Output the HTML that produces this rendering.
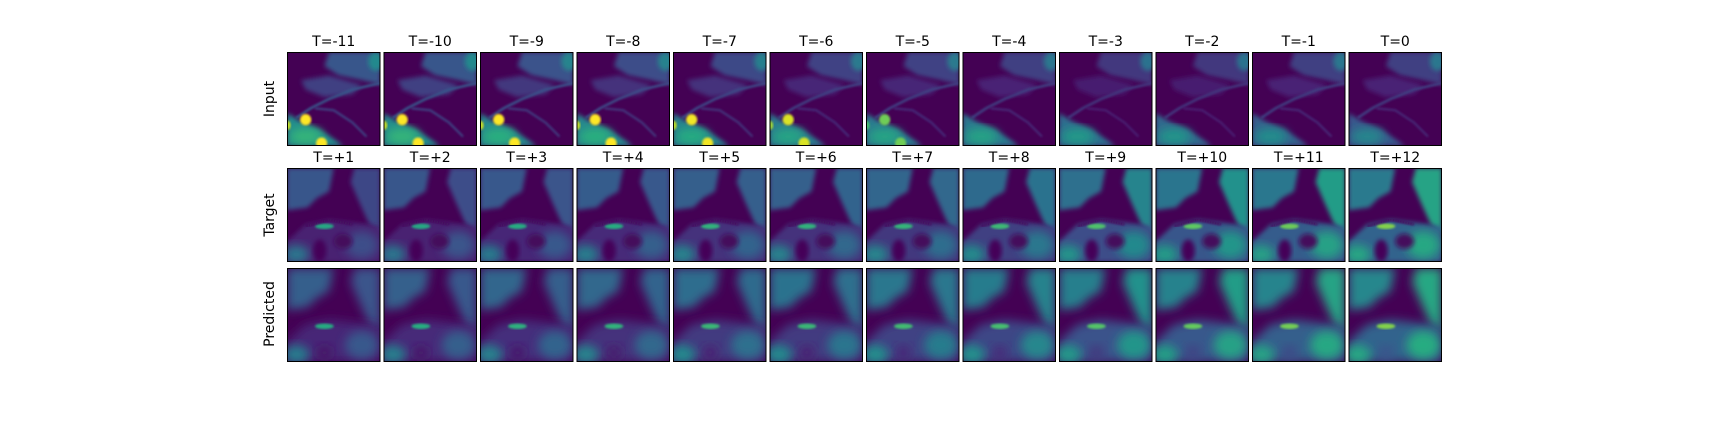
<!DOCTYPE html>
<html><head><meta charset="utf-8"><style>
html,body{margin:0;padding:0;background:#fff;}
svg text{font-family:"DejaVu Sans","Liberation Sans",sans-serif;font-size:14px;fill:#000;}
</style></head><body>
<svg id="fig" width="1728" height="432" viewBox="0 0 1728 432" xmlns="http://www.w3.org/2000/svg">
<defs>
<filter id="blur2" x="-20%" y="-20%" width="140%" height="140%"><feGaussianBlur stdDeviation="2.5"/></filter>
<filter id="blur4" x="-30%" y="-30%" width="160%" height="160%"><feGaussianBlur stdDeviation="5"/></filter>
<filter id="blur1"><feGaussianBlur stdDeviation="1"/></filter>
</defs>
<text transform="translate(274,99) rotate(-90)" text-anchor="middle">Input</text>
<text transform="translate(274,215) rotate(-90)" text-anchor="middle">Target</text>
<text transform="translate(274,314) rotate(-90)" text-anchor="middle">Predicted</text>
<g id="panels"></g>
</svg>
<script>
// titles
const inputTitles = ["T=-11","T=-10","T=-9","T=-8","T=-7","T=-6","T=-5","T=-4","T=-3","T=-2","T=-1","T=0"];
const targetTitles = ["T=+1","T=+2","T=+3","T=+4","T=+5","T=+6","T=+7","T=+8","T=+9","T=+10","T=+11","T=+12"];
// per-panel intensities (0..1 viridis scale)
const inputBand   = [0.60,0.60,0.58,0.58,0.56,0.53,0.53,0.52,0.48,0.46,0.43,0.40];
const inputCloud  = [0.27,0.27,0.25,0.24,0.23,0.21,0.21,0.20,0.18,0.18,0.20,0.20];
const inputSpots  = [1,1,1,1,0.95,0.85,0.5,0,0,0,0,0];
const targetCloud = [0.27,0.27,0.28,0.29,0.30,0.31,0.33,0.35,0.37,0.39,0.40,0.41];
const targetBand  = [0.40,0.40,0.42,0.43,0.45,0.45,0.46,0.48,0.52,0.55,0.57,0.60];
const targetRight = [0.22,0.24,0.26,0.28,0.30,0.32,0.34,0.38,0.45,0.50,0.55,0.58];
const predCloud   = [0.30,0.31,0.33,0.34,0.36,0.38,0.40,0.42,0.43,0.44,0.45,0.46];
const predBand    = [0.42,0.43,0.44,0.45,0.47,0.47,0.49,0.50,0.53,0.56,0.58,0.60];
const predRight   = [0.26,0.28,0.30,0.32,0.35,0.37,0.40,0.44,0.50,0.55,0.58,0.60];

const X0=287, PITCH=96.5, W=93.5, H=94, ROWY=[52,168,268];
const stops=[[0,[68,1,84]],[0.13,[72,36,117]],[0.25,[59,82,139]],[0.38,[44,114,142]],[0.5,[33,145,140]],[0.63,[40,174,128]],[0.75,[94,201,98]],[0.88,[189,223,38]],[1,[253,231,37]]];
function vir(v){v=Math.max(0,Math.min(1,v));for(let i=1;i<stops.length;i++){if(v<=stops[i][0]){const a=stops[i-1],b=stops[i];const t=(v-a[0])/(b[0]-a[0]);const c=a[1].map((x,k)=>Math.round(x+(b[1][k]-x)*t));return `rgb(${c[0]},${c[1]},${c[2]})`;}}return "rgb(253,231,37)";}
const NS="http://www.w3.org/2000/svg";
const root=document.getElementById('panels');
function el(tag,attrs,parent){const e=document.createElementNS(NS,tag);for(const k in attrs)e.setAttribute(k,attrs[k]);parent.appendChild(e);return e;}
function poly(pts,x,y,fill,g,f){return el('polygon',{points:pts.map(p=>(x+p[0]*W)+','+(y+p[1]*H)).join(' '),fill:fill,filter:f||'url(#blur2)'},g);}
function ell(cx,cy,rx,ry,x,y,fill,g,f){return el('ellipse',{cx:x+cx*W,cy:y+cy*H,rx:rx*W,ry:ry*H,fill:fill,filter:f||'url(#blur2)'},g);}
function line(pts,x,y,stroke,w,g){return el('polyline',{points:pts.map(p=>(x+p[0]*W)+','+(y+p[1]*H)).join(' '),fill:'none',stroke:stroke,'stroke-width':w,filter:'url(#blur1)'},g);}

function panel(row,i){
  const x=X0+i*PITCH,y=ROWY[row];
  const g=el('g',{},root);
  
  
  const cid='c'+row+'_'+i;
  const cp=el('clipPath',{id:cid},g);el('rect',{x:x,y:y,width:W,height:H},cp);
  const inner=el('g',{'clip-path':`url(#${cid})`},g);
  el('rect',{x:x,y:y,width:W,height:H,fill:vir(0)},inner);
  if(row===0){
    const c=inputCloud[i],b=inputBand[i];
    poly([[0.45,0],[1,0],[1,0.35],[0.8,0.3],[0.55,0.25],[0.4,0.15]],x,y,vir(c),inner);
    poly([[0.15,0.3],[0.45,0.25],[0.8,0.35],[0.7,0.45],[0.4,0.48],[0.2,0.4]],x,y,vir(c-0.07),inner);
    ell(0.95,0.1,0.08,0.1,x,y,vir(c+0.2),inner);
    line([[0.1,0.7],[0.25,0.6],[0.45,0.5],[0.7,0.4],[1,0.33]],x,y,vir(c),2.5,inner);
    line([[0.3,0.6],[0.5,0.62],[0.7,0.75],[0.85,0.9]],x,y,vir(c-0.05),2,inner);
    poly([[0,0.65],[0.15,0.74],[0.35,0.82],[0.55,0.96],[0.6,1],[0,1]],x,y,vir(b-0.12),inner);
    ell(0.2,0.9,0.18,0.09,x,y,vir(b+0.06),inner,'url(#blur4)');
    if(inputSpots[i]>0){
      const s=inputSpots[i];
      ell(0.2,0.72,0.06,0.06,x,y,vir(0.55+0.45*s),inner,'url(#blur1)');
      ell(0.37,0.97,0.06,0.06,x,y,vir(0.55+0.45*s),inner,'url(#blur1)');
      ell(0.0,0.78,0.04,0.05,x,y,vir(0.5+0.4*s),inner,'url(#blur1)');
    }
  } else {
    const c=row===1?targetCloud[i]:predCloud[i];
    const b=row===1?targetBand[i]:predBand[i];
    const r=row===1?targetRight[i]:predRight[i];
    const f=row===1?'url(#blur2)':'url(#blur4)';
    poly([[0,0],[0.5,0],[0.45,0.25],[0.32,0.32],[0.22,0.42],[0,0.45]],x,y,vir(c),inner,f);
    poly([[0.72,0],[1,0],[1,0.7],[0.88,0.6],[0.78,0.38],[0.68,0.15]],x,y,vir(r),inner,f);
    poly([[0,0.78],[0.2,0.6],[0.45,0.55],[0.7,0.58],[1,0.62],[1,1],[0,1]],x,y,vir(b-0.28),inner,f);
    ell(0.4,0.62,0.1,0.03,x,y,vir(b+0.2),inner,'url(#blur1)');
    ell(0.8,0.82,0.18,0.15,x,y,vir(r+0.02),inner,'url(#blur4)');
    ell(0.1,0.92,0.14,0.1,x,y,vir(b),inner,'url(#blur4)');
    if(row===1){
      ell(0.35,0.88,0.07,0.12,x,y,vir(0.02),inner);
      ell(0.6,0.78,0.1,0.08,x,y,vir(0.03),inner);
      line([[0.2,0.62],[0.45,0.55],[0.7,0.6]],x,y,vir(0.03),2,inner);
    } else {
      ell(0.4,0.9,0.08,0.08,x,y,vir(b-0.35),inner,'url(#blur4)');
    }
  }
  el('rect',{x:x+0.5,y:y+0.5,width:W-1,height:H-1,fill:'none',stroke:'#000','stroke-width':1},g);
  if(row<2){
    const t=el('text',{x:x+W/2,y:y-6,'text-anchor':'middle'},g);
    t.textContent=row===0?inputTitles[i]:targetTitles[i];
    
    
  }
}
for(let r=0;r<3;r++)for(let i=0;i<12;i++)panel(r,i);
</script>
</body></html>
